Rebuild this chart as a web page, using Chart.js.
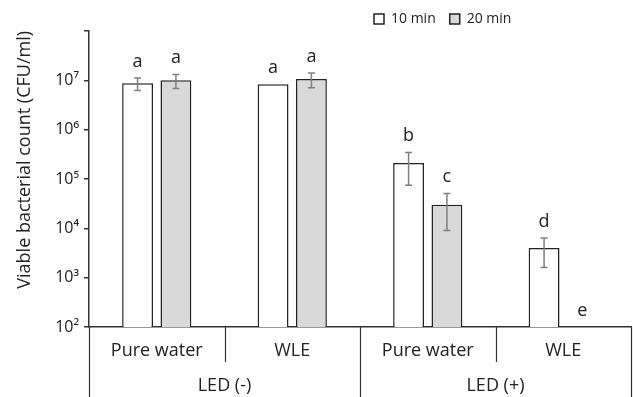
<!DOCTYPE html>
<html>
<head>
<meta charset="utf-8">
<script src="https://cdn.jsdelivr.net/npm/chart.js@4.4.1/dist/chart.umd.min.js"></script>
<style>
  html, body { margin: 0; padding: 0; background: #fff; }
  #wrap { width: 633px; height: 397px; position: relative; }
</style>
</head>
<body>
<div id="wrap"><canvas id="cfuChart" width="633" height="397"></canvas></div>
<script>
// ----------------------------- Data ---------------------------------------
const categories = ['Pure water', 'WLE', 'Pure water', 'WLE'];
const groups = ['LED (-)', 'LED (+)'];
const perGroup = 2;
const series = ['10 min', '20 min'];

const cfu10 = [8.7e6, 8.3e6, 2.1e5, 4.0e3];
const cfu20 = [1.0e7, 1.06e7, 3.0e4, null];
const sd10 = [2.5e6, 0, 1.35e5, 2.4e3];
const sd20 = [3.2e6, 3.5e6, 2.1e4, 0];
const letters10 = ['a', 'a', 'b', 'd'];
const letters20 = ['a', 'a', 'c', 'e'];

const yTicks = [1e2, 1e3, 1e4, 1e5, 1e6, 1e7, 1e8];
const yTickLabels = ['10²', '10³', '10⁴', '10⁵', '10⁶', '10⁷', ''];

// ----------------------------- Style --------------------------------------
const FONT = "'Open Sans', 'Noto Sans', sans-serif";
const INK = '#222222';
const AXIS = '#333333';
const COL = {
  white: '#ffffff',
  gray: '#d9d9d9',
  err: '#7f7f7f',
};

// Error bars + significance letters, placed with the y scale
const errorBars = {
  id: 'errorBars',
  afterDatasetsDraw(chart) {
    const ctx = chart.ctx;
    const y = chart.scales.y;
    chart.data.datasets.forEach((ds, i) => {
      const meta = chart.getDatasetMeta(i);
      meta.data.forEach((bar, j) => {
        const v = ds.data[j];
        const sd = ds.sd[j] || 0;
        let topPx = y.bottom;
        if (v != null) {
          topPx = y.getPixelForValue(v + sd);
          if (sd > 0) {
            const lowPx = y.getPixelForValue(v - sd);
            ctx.save();
            ctx.strokeStyle = COL.err;
            ctx.lineWidth = 1.5;
            ctx.beginPath();
            ctx.moveTo(bar.x, topPx);
            ctx.lineTo(bar.x, lowPx);
            ctx.moveTo(bar.x - 3.5, topPx);
            ctx.lineTo(bar.x + 3.5, topPx);
            ctx.moveTo(bar.x - 3.5, lowPx);
            ctx.lineTo(bar.x + 3.5, lowPx);
            ctx.stroke();
            ctx.restore();
          }
        }
        ctx.save();
        ctx.fillStyle = INK;
        ctx.font = `18px ${FONT}`;
        ctx.textAlign = 'center';
        ctx.textBaseline = 'alphabetic';
        ctx.fillText(ds.letters[j], bar.x, topPx - 11);
        ctx.restore();
      });
    });
  },
};

// Vertical dividers of the two-level category axis
const groupDividers = {
  id: 'groupDividers',
  afterDraw(chart) {
    const ctx = chart.ctx;
    const x = chart.scales.x;
    ctx.save();
    ctx.strokeStyle = AXIS;
    ctx.lineWidth = 1.2;
    ctx.beginPath();
    for (let k = 0; k <= categories.length; k++) {
      const px = Math.round(x.getPixelForValue(k - 0.5)) + 0.5;
      const isGroupEdge = k % perGroup === 0;
      ctx.moveTo(px, x.top);
      ctx.lineTo(px, isGroupEdge ? chart.height : x.bottom);
    }
    ctx.stroke();
    ctx.restore();
  },
};

// Move the legend to the right-hand side above the plot
const legendShift = {
  id: 'legendShift',
  afterLayout(chart) {
    const lg = chart.legend;
    if (!lg) return;
    const w = lg.right - lg.left;
    lg.left = 374 - lg.options.labels.padding;
    lg.right = lg.left + w;
    lg.top += 5;
    lg.bottom += 5;
  },
};

new Chart(document.getElementById('cfuChart'), {
  type: 'bar',
  data: {
    labels: categories,
    datasets: [
      {
        label: series[0],
        data: cfu10,
        sd: sd10,
        letters: letters10,
        backgroundColor: COL.white,
        borderColor: INK,
        borderWidth: 1.5,
        categoryPercentage: 0.566,
        barPercentage: 0.805,
      },
      {
        label: series[1],
        data: cfu20,
        sd: sd20,
        letters: letters20,
        backgroundColor: COL.gray,
        borderColor: INK,
        borderWidth: 1.5,
        categoryPercentage: 0.566,
        barPercentage: 0.805,
      },
    ],
  },
  options: {
    responsive: false,
    animation: false,
    events: [],
    layout: { padding: { top: -7, right: 2, left: 0, bottom: 0 } },
    scales: {
      x: {
        type: 'category',
        offset: true,
        afterFit: (scale) => {
          scale.height = 35;
        },
        grid: { display: false, drawTicks: false },
        border: { display: true, color: AXIS, width: 1.5 },
        ticks: { color: INK, font: { family: FONT, size: 18 }, padding: 13, maxRotation: 0 },
      },
      x2: {
        type: 'category',
        position: 'bottom',
        labels: groups,
        offset: true,
        afterFit: (scale) => {
          scale.height = 35;
        },
        grid: { display: false, drawTicks: false },
        border: { display: false },
        ticks: { color: INK, font: { family: FONT, size: 18 }, padding: 13, maxRotation: 0 },
      },
      y: {
        type: 'logarithmic',
        min: 1e2,
        max: 1e8,
        afterBuildTicks: (scale) => {
          scale.ticks = yTicks.map((v) => ({ value: v }));
        },
        afterFit: (scale) => {
          scale.width = 89;
        },
        grid: { drawOnChartArea: false, drawTicks: true, tickLength: 5, color: AXIS, lineWidth: 1.5 },
        border: { display: true, color: AXIS, width: 1.5 },
        ticks: {
          color: INK,
          font: { family: FONT, size: 16 },
          padding: 5,
          callback: (v) => {
            const i = yTicks.indexOf(v);
            return i > -1 ? yTickLabels[i] : '';
          },
        },
        title: {
          display: true,
          text: 'Viable bacterial count (CFU/ml)',
          align: 'end',
          color: INK,
          font: { family: FONT, size: 18 },
          padding: { top: 14, bottom: 0 },
        },
      },
    },
    plugins: {
      legend: {
        display: true,
        position: 'top',
        align: 'start',
        labels: {
          color: INK,
          font: { family: FONT, size: 14 },
          boxWidth: 10,
          boxHeight: 10,
          padding: 14,
        },
      },
      tooltip: { enabled: false },
    },
  },
  plugins: [errorBars, groupDividers, legendShift],
});
</script>
</body>
</html>
